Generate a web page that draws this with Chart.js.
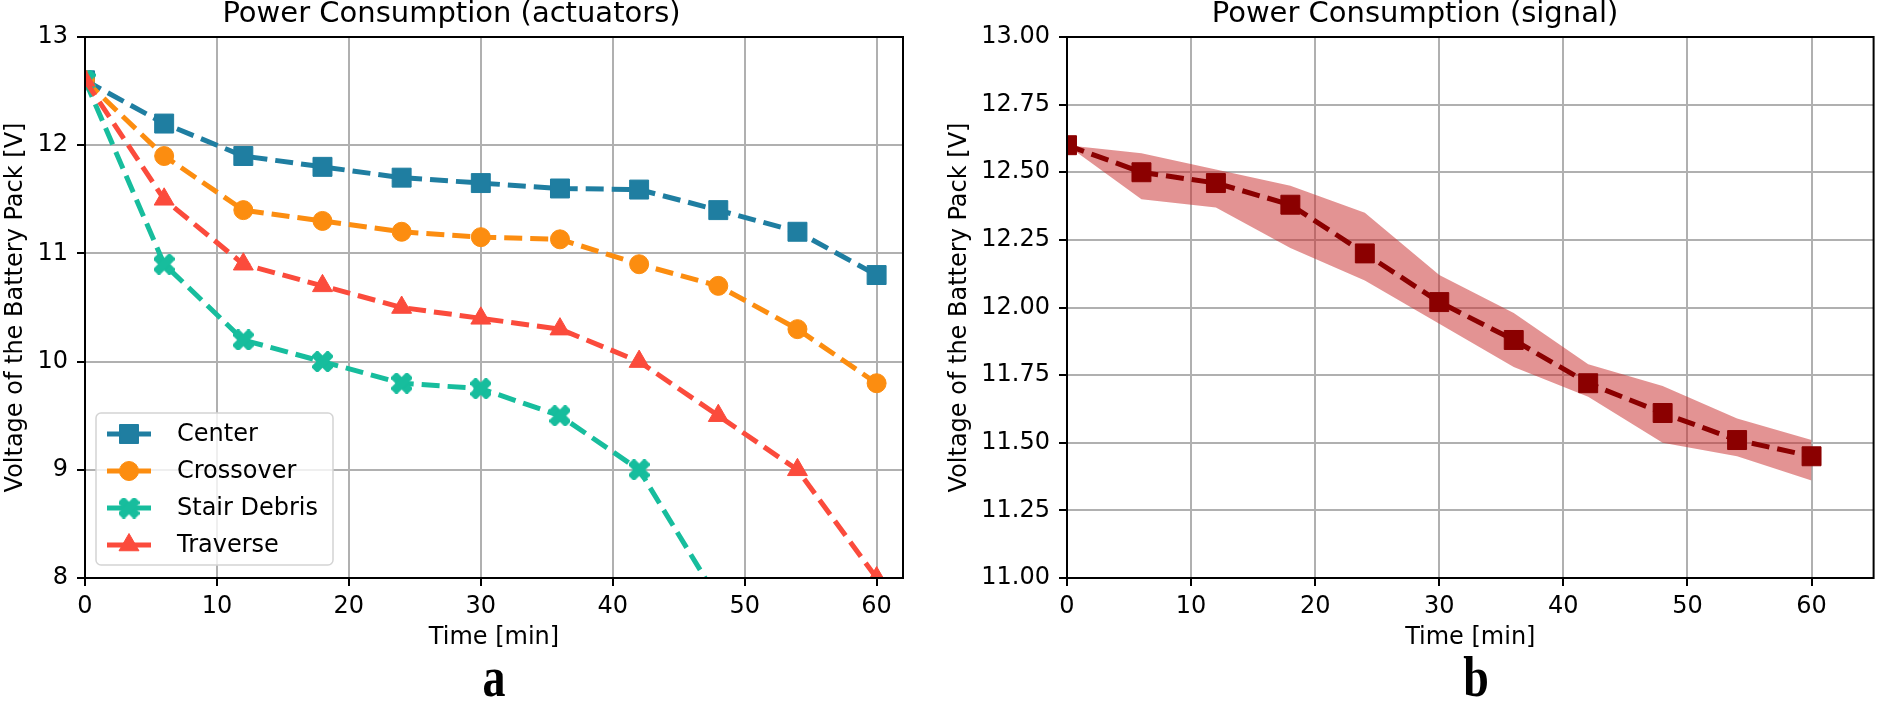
<!DOCTYPE html>
<html>
<head>
<meta charset="utf-8">
<script src="https://cdn.jsdelivr.net/npm/chart.js@4.4.1/dist/chart.umd.min.js"></script>
<style>
  html, body { margin: 0; padding: 0; background: #fff; }
  body { width: 1888px; height: 704px; position: relative; overflow: hidden; }
  canvas { position: absolute; top: 0; }
  .tag {
    position: absolute;
    font-family: 'Liberation Serif', 'Times New Roman', serif;
    font-weight: bold;
    font-size: 46px;
    line-height: 46px;
    transform: translateX(-50%) scaleY(1.25);
    transform-origin: 50% 100%;
  }
</style>
</head>
<body>
<canvas id="actuators" width="944" height="704" style="left:0"></canvas>
<canvas id="signal" width="944" height="704" style="left:944px"></canvas>
<div class="tag" style="left:494px; top:660px">a</div>
<div class="tag" style="left:1476px; top:660px">b</div>

<script>
const FONT = "'DejaVu Sans', sans-serif";

// time axis (minutes)
const TIME = [0, 6, 12, 18, 24, 30, 36, 42, 48, 54, 60];
const X_TICKS = [0, 10, 20, 30, 40, 50, 60];

// left panel: actuators
const SERIES_NAMES = ['Center', 'Crossover', 'Stair Debris', 'Traverse'];
const CENTER = [12.6, 12.2, 11.9, 11.8, 11.7, 11.65, 11.6, 11.59, 11.4, 11.2, 10.8];
const CROSSOVER = [12.6, 11.9, 11.4, 11.3, 11.2, 11.15, 11.13, 10.9, 10.7, 10.3, 9.8];
const STAIR_DEBRIS = [12.6, 10.9, 10.2, 10.0, 9.8, 9.75, 9.5, 9.0, 7.8];
const TRAVERSE = [12.6, 11.5, 10.9, 10.7, 10.5, 10.4, 10.3, 10.0, 9.5, 9.0, 8.0];
const LEFT_Y_TICKS = [8, 9, 10, 11, 12, 13];

// right panel: signal (mean and spread)
const SIGNAL_MEAN = [12.6, 12.5, 12.46, 12.38, 12.2, 12.02, 11.88, 11.72, 11.61, 11.51, 11.45];
const SIGNAL_UPPER = [12.6, 12.57, 12.51, 12.45, 12.35, 12.12, 11.98, 11.79, 11.71, 11.59, 11.51];
const SIGNAL_LOWER = [12.6, 12.4, 12.37, 12.22, 12.1, 11.94, 11.78, 11.67, 11.5, 11.45, 11.36];
const RIGHT_Y_TICKS = [11.0, 11.25, 11.5, 11.75, 12.0, 12.25, 12.5, 12.75, 13.0];

const COLORS = {
    center: '#1f7ea1',
    crossover: '#fc8d10',
    stair: '#17bd9d',
    traverse: '#fb4b3c',
    signal: '#8b0000'
};

function toPoints(values) {
    return values.map((v, i) => ({ x: TIME[i], y: v }));
}

// filled "X" marker, like matplotlib's 'X' (chunky arms)
function makeXMarker(color, size) {
    const c = document.createElement('canvas');
    c.width = size;
    c.height = size;
    const g = c.getContext('2d');
    g.translate(size / 2, size / 2);
    g.rotate(Math.PI / 4);
    g.fillStyle = color;
    const a = size * 0.56, w = size * 0.21;
    g.fillRect(-a, -w, 2 * a, 2 * w);
    g.fillRect(-w, -a, 2 * w, 2 * a);
    return c;
}

function seriesDataset(label, values, color, style, radius, order) {
    return {
        label: label,
        data: toPoints(values),
        borderColor: color,
        backgroundColor: color,
        borderWidth: 5,
        borderDash: [18, 8],
        pointStyle: style,
        pointRadius: radius,
        pointBackgroundColor: color,
        pointBorderColor: color,
        pointBorderWidth: 1,
        tension: 0,
        fill: false,
        order: order
    };
}

const framePlugin = {
    id: 'frame',
    afterDraw(chart) {
        const { ctx, chartArea: a } = chart;
        ctx.save();
        ctx.strokeStyle = '#000';
        ctx.lineWidth = 2;
        ctx.strokeRect(a.left, a.top, a.right - a.left, a.bottom - a.top);
        ctx.restore();
    }
};

// legend box sitting inside the plot, lower left
const boxLegendPlugin = {
    id: 'boxLegend',
    afterDraw(chart) {
        const { ctx, chartArea: a } = chart;
        const w = 237, h = 152;
        const x0 = a.left + 11, y0 = a.bottom - 13 - h;
        ctx.save();
        ctx.beginPath();
        ctx.roundRect(x0, y0, w, h, 5);
        ctx.fillStyle = 'rgba(255,255,255,0.8)';
        ctx.fill();
        ctx.strokeStyle = '#d4d4d4';
        ctx.lineWidth = 1.5;
        ctx.stroke();

        chart.data.datasets.forEach((ds, i) => {
            const y = y0 + 21 + i * 37;
            ctx.strokeStyle = ds.borderColor;
            ctx.lineWidth = ds.borderWidth;
            ctx.setLineDash(ds.borderDash);
            ctx.beginPath();
            ctx.moveTo(x0 + 11, y);
            ctx.lineTo(x0 + 55, y);
            ctx.stroke();
            ctx.setLineDash([]);

            ctx.fillStyle = ds.pointBackgroundColor;
            ctx.strokeStyle = ds.pointBorderColor;
            ctx.lineWidth = ds.pointBorderWidth;
            Chart.helpers.drawPoint(ctx, {
                pointStyle: ds.pointStyle,
                radius: ds.pointRadius,
                borderWidth: ds.pointBorderWidth,
                rotation: 0
            }, x0 + 33, y);

            ctx.fillStyle = '#000';
            ctx.font = '24px ' + FONT;
            ctx.textBaseline = 'middle';
            ctx.textAlign = 'left';
            ctx.fillText(ds.label, x0 + 81, y + 1);
        });
        ctx.restore();
    }
};

function panelOptions(o) {
    const tickFont = { family: FONT, size: 24 };
    const grid = {
        color: '#b0b0b0',
        lineWidth: 2,
        tickColor: '#000',
        tickWidth: 2,
        tickLength: 8
    };
    return {
        responsive: false,
        animation: false,
        layout: { padding: { left: 0, right: o.padRight, top: 0, bottom: 50 } },
        plugins: {
            legend: { display: false },
            tooltip: { enabled: false },
            title: {
                display: true,
                text: o.title,
                color: '#000',
                font: { family: FONT, size: 29, weight: 'normal', lineHeight: 1 },
                padding: { top: 0, bottom: 8 }
            }
        },
        scales: {
            x: {
                type: 'linear',
                min: 0,
                max: o.xMax,
                afterBuildTicks: s => { s.ticks = X_TICKS.map(v => ({ value: v })); },
                afterFit: s => { s.height = 76; },
                ticks: { font: tickFont, color: '#000', padding: 6, maxRotation: 0, autoSkip: false },
                grid: grid,
                border: { display: false },
                title: {
                    display: true,
                    text: 'Time [min]',
                    color: '#000',
                    font: tickFont,
                    padding: { top: 0, bottom: 2 }
                }
            },
            y: {
                min: o.yMin,
                max: o.yMax,
                afterBuildTicks: s => { s.ticks = o.yTicks.map(v => ({ value: v })); },
                afterFit: s => { s.width = o.yWidth; },
                ticks: { font: tickFont, color: '#000', padding: 9, callback: o.yFormat },
                grid: grid,
                border: { display: false },
                title: {
                    display: true,
                    text: 'Voltage of the Battery Pack [V]',
                    color: '#000',
                    font: tickFont,
                    padding: { top: 1, bottom: 0 }
                }
            }
        }
    };
}

// --- left: actuators ---
new Chart(document.getElementById('actuators'), {
    type: 'line',
    data: {
        datasets: [
            seriesDataset(SERIES_NAMES[0], CENTER, COLORS.center, 'rect', 13.4, 3),
            seriesDataset(SERIES_NAMES[1], CROSSOVER, COLORS.crossover, 'circle', 9.5, 2),
            seriesDataset(SERIES_NAMES[2], STAIR_DEBRIS, COLORS.stair, makeXMarker(COLORS.stair, 21), 10, 1),
            seriesDataset(SERIES_NAMES[3], TRAVERSE, COLORS.traverse, 'triangle', 11.5, 0)
        ]
    },
    options: panelOptions({
        title: 'Power Consumption (actuators)',
        xMax: 62,
        yMin: 8,
        yMax: 13,
        yTicks: LEFT_Y_TICKS,
        yWidth: 85,
        padRight: 41,
        yFormat: v => String(v)
    }),
    plugins: [framePlugin, boxLegendPlugin]
});

// --- right: signal ---
new Chart(document.getElementById('signal'), {
    type: 'line',
    data: {
        datasets: [
            {
                label: 'upper',
                data: toPoints(SIGNAL_UPPER),
                borderWidth: 0,
                pointRadius: 0,
                fill: '+1',
                backgroundColor: 'rgba(200,40,40,0.5)',
                order: 1
            },
            {
                label: 'lower',
                data: toPoints(SIGNAL_LOWER),
                borderWidth: 0,
                pointRadius: 0,
                fill: false,
                order: 1
            },
            seriesDataset('Signal', SIGNAL_MEAN, COLORS.signal, 'rect', 13.4, 0)
        ]
    },
    options: panelOptions({
        title: 'Power Consumption (signal)',
        xMax: 65,
        yMin: 11,
        yMax: 13,
        yTicks: RIGHT_Y_TICKS,
        yWidth: 123,
        padRight: 2,
        yFormat: v => v.toFixed(2)
    }),
    plugins: [framePlugin]
});
</script>
</body>
</html>
